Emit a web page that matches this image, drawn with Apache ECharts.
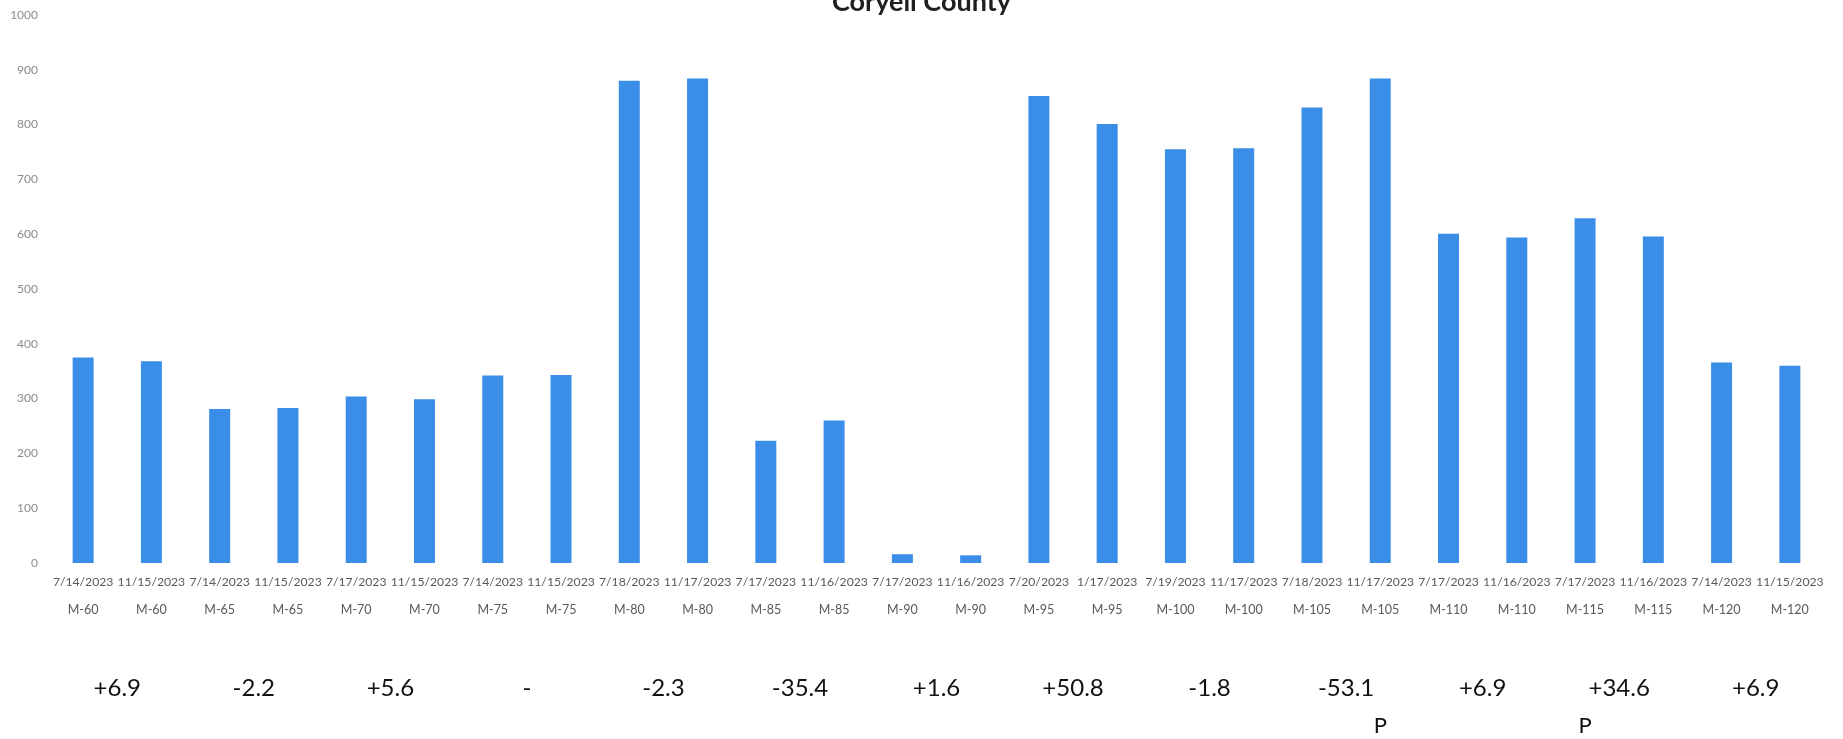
<!DOCTYPE html>
<html><head><meta charset="utf-8">
<script src="https://cdn.jsdelivr.net/npm/echarts@6/dist/echarts.min.js"></script>
<style>html,body{margin:0;padding:0;background:#fff;overflow:hidden}#c{width:1843px;height:739px}</style>
</head><body><div id="c"></div>
<script>
const titleText = 'Coryell County';
const dates = ['7/14/2023','11/15/2023','7/14/2023','11/15/2023','7/17/2023','11/15/2023','7/14/2023','11/15/2023','7/18/2023','11/17/2023','7/17/2023','11/16/2023','7/17/2023','11/16/2023','7/20/2023','1/17/2023','7/19/2023','11/17/2023','7/18/2023','11/17/2023','7/17/2023','11/16/2023','7/17/2023','11/16/2023','7/14/2023','11/15/2023'];
const sites = ['M-60','M-60','M-65','M-65','M-70','M-70','M-75','M-75','M-80','M-80','M-85','M-85','M-90','M-90','M-95','M-95','M-100','M-100','M-105','M-105','M-110','M-110','M-115','M-115','M-120','M-120'];
const values = [375,368,281,283,304,299,342,343,880,884,223,260,16,14,852,801,755,757,831,884,601,594,629,596,366,360];
const changes = ['+6.9','-2.2','+5.6','-','-2.3','-35.4','+1.6','+50.8','-1.8','-53.1','+6.9','+34.6','+6.9'];
const marks = ['','','','','','','','','','','','','','','','','','','','P','','','P','','',''];
const yMin = 0, yMax = 1000, yStep = 100;

const chart = echarts.init(document.getElementById('c'), null, {renderer:'canvas'});
const hidden = {axisLine:{show:false}, axisTick:{show:false}, splitLine:{show:false}};
chart.setOption({
  animation:false,
  backgroundColor:'#ffffff',
  title:{text:titleText, left:'center', top:-16,
    textStyle:{fontFamily:'Lato', fontSize:27, fontWeight:'bold', color:'#1f1f1f'}},
  grid:{left:49, right:19, top:15, bottom:174},
  xAxis:[
    Object.assign({type:'category', position:'bottom', gridIndex:0,
      data: dates.map((d,i)=>d+'|'+sites[i]),
      axisLabel:{interval:0, margin:6,
        formatter: v => { const p = v.split('|'); return '{d|'+p[0]+'}\n{m|'+p[1]+'}'; },
        rich:{
          d:{fontFamily:'Lato', fontSize:12.2, color:'#595959', lineHeight:27},
          m:{fontFamily:'Lato', fontSize:12.5, color:'#595959', lineHeight:27}
        }}}, hidden),
    Object.assign({type:'category', position:'bottom', gridIndex:0, data:changes,
      axisLabel:{interval:0, margin:111, fontFamily:'Lato', fontSize:24, color:'#111111', lineHeight:29}}, hidden),
    Object.assign({type:'category', position:'bottom', gridIndex:0, data:marks,
      axisLabel:{interval:0, margin:150, fontFamily:'Lato', fontSize:22, color:'#111111', lineHeight:26}}, hidden)
  ],
  yAxis:Object.assign({type:'value', min:yMin, max:yMax, interval:yStep,
    axisLabel:{margin:11, fontFamily:'Lato', fontSize:12, color:'#8c8c8c', formatter: v => String(v)}}, hidden),
  series:[{type:'bar', xAxisIndex:0, data:values, barWidth:21,
    itemStyle:{color:'#3b8ee8'}}]
});
</script></body></html>
